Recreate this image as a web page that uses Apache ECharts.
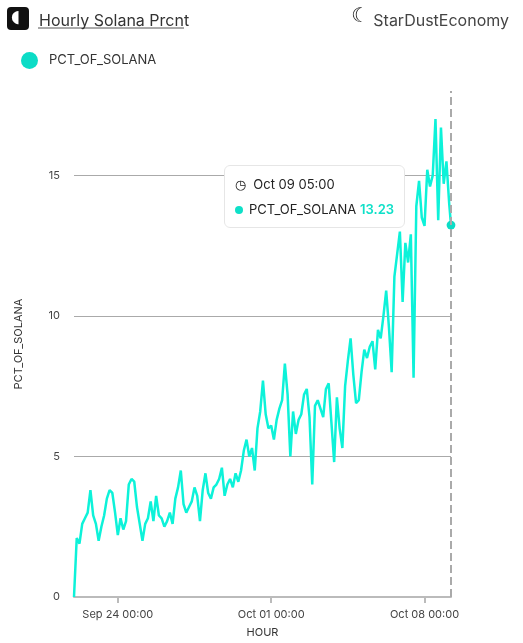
<!DOCTYPE html>
<html><head><meta charset="utf-8">
<script src="https://cdn.jsdelivr.net/npm/echarts@6/dist/echarts.min.js"></script>
<style>html,body{margin:0;padding:0;background:#fff}#c{width:523px;height:643px}</style>
</head><body><div id="c"></div>
<script>
const title = 'Hourly Solana Prcnt';
const brand = 'StarDustEconomy';
const seriesName = 'PCT_OF_SOLANA';
const startTime = '2024-09-22T00:00:00';
const stepHours = 3;
// 3-hourly values from Sep 22 00:00
const values = [
 0,2.1,1.9,2.6,2.8,3.0,3.8,2.9,
 2.6,2.0,2.5,2.9,3.5,3.8,3.7,3.0,
 2.2,2.8,2.4,2.7,4.0,4.2,4.1,3.2,
 2.6,2.0,2.6,2.8,3.4,2.7,3.6,2.9,
 2.8,2.5,2.7,3.0,2.6,3.5,3.9,4.5,
 3.3,3.0,3.2,3.4,3.9,3.6,2.7,3.8,
 4.4,3.7,3.5,3.9,4.0,4.2,4.6,3.6,
 4.0,4.2,3.9,4.4,4.1,4.5,5.2,5.6,
 5.0,5.3,4.5,6.0,6.6,7.7,6.5,6.0,
 6.1,5.6,6.3,6.7,7.0,8.3,7.2,5.0,
 6.6,5.8,6.3,6.5,7.2,7.4,6.4,4.0,
 6.8,7.0,6.7,6.4,7.4,7.6,6.2,4.8,
 7.1,6.0,5.3,7.5,8.4,9.2,7.9,6.9,
 7.0,8.0,8.8,8.5,8.9,9.1,8.1,9.5,
 9.2,10.0,10.9,9.6,8.0,11.4,12.2,13.0,
 10.5,12.6,11.9,12.9,7.8,13.9,14.8,13.5,
 13.2,15.2,14.6,15.0,17.0,13.4,16.7,14.7,
 15.5,14.0
];
const lastTime = '2024-10-09T05:00:00';
const lastValue = 13.23;
const xTickDates = ['2024-09-24T00:00:00','2024-10-01T00:00:00','2024-10-08T00:00:00'];

const t0 = new Date(startTime).getTime();
const data = values.map((v,i)=>[t0 + i*stepHours*3600e3, v]);
data.push([new Date(lastTime).getTime(), lastValue]);
const xTicks = xTickDates.map(d=>new Date(d).getTime());

const chart = echarts.init(document.getElementById('c'));
const fmt = t => echarts.time.format(t,'{MMM} {dd} {HH}:{mm}',false);
chart.setOption({
  animation:false,
  textStyle:{fontFamily:'Inter, Roboto, sans-serif'},
  title:[
    {text:title,left:34,top:8,textStyle:{fontSize:16,fontWeight:'normal',color:'#333'}},
    {text:brand,right:9,top:8,textStyle:{fontSize:16,fontWeight:'normal',color:'#444'}}
  ],
  graphic:[
    {type:'rect',left:7,top:7,shape:{width:22,height:23,r:4},style:{fill:'#111'}},
    {type:'text',left:11,top:9,style:{text:'◖',fill:'#fff',font:'17px DejaVu Sans'}},
    {type:'line',shape:{x1:38,y1:28,x2:184,y2:28},style:{stroke:'#555',lineWidth:1}},
    {type:'text',left:351,top:7,style:{text:'☾',fill:'#222',font:'bold 20px DejaVu Sans'}}
  ],
  legend:{left:16,top:47,icon:'circle',itemWidth:17,itemHeight:17,itemGap:10,
    textStyle:{fontSize:13,color:'#333',padding:[0,0,0,6]},data:[seriesName]},
  grid:{left:74,right:72,top:91,bottom:44,containLabel:false},
  tooltip:{trigger:'axis',alwaysShowContent:true,position:[224,165],
    backgroundColor:'#fff',borderColor:'#e6e6e6',borderWidth:1,padding:[7,10],
    extraCssText:'border-radius:6px;box-shadow:none;',
    axisPointer:{type:'line',lineStyle:{color:'#aaa',type:'dashed',width:2}},
    formatter:p=>{const d=p[0];return '<div style="font-family:Inter,Roboto,sans-serif;font-size:13px;color:#222;line-height:22px">'+
      '<div style="margin-bottom:3px">&#9719;&nbsp; '+fmt(d.value[0])+'</div>'+
      '<div><span style="display:inline-block;width:8px;height:8px;border-radius:4px;background:#0ee0c8;margin-right:6px"></span>'+
      d.seriesName+' <span style="color:#0ee0c8;font-weight:600">'+d.value[1].toFixed(2)+'</span></div></div>';}
  },
  xAxis:{type:'value',min:t0,max:data[data.length-1][0],name:'HOUR',nameLocation:'middle',nameGap:30,
    nameTextStyle:{fontSize:11,color:'#333'},
    axisLine:{lineStyle:{color:'#bbb',width:2}},
    axisTick:{show:true,customValues:xTicks,length:6,lineStyle:{color:'#bbb',width:2}},
    axisLabel:{customValues:xTicks,formatter:v=>fmt(v),fontSize:11,color:'#444',margin:12},
    axisPointer:{label:{show:false}},
    splitLine:{show:false}},
  yAxis:{type:'value',min:0,max:18,interval:5,name:seriesName,nameLocation:'middle',nameGap:50,
    nameTextStyle:{fontSize:11,color:'#333'},
    axisLabel:{fontSize:11,color:'#444',showMaxLabel:false,margin:14},
    axisLine:{show:false},axisTick:{show:false},
    splitLine:{showMaxLine:false,lineStyle:{color:'#aaa'}}},
  series:[{name:seriesName,type:'line',data:data,showSymbol:false,symbol:'circle',symbolSize:8,
    itemStyle:{color:'#0cdcc6'},lineStyle:{color:'#0cdcc6',width:2.5}}]
});
chart.dispatchAction({type:'showTip',seriesIndex:0,dataIndex:data.length-1});
</script></body></html>
